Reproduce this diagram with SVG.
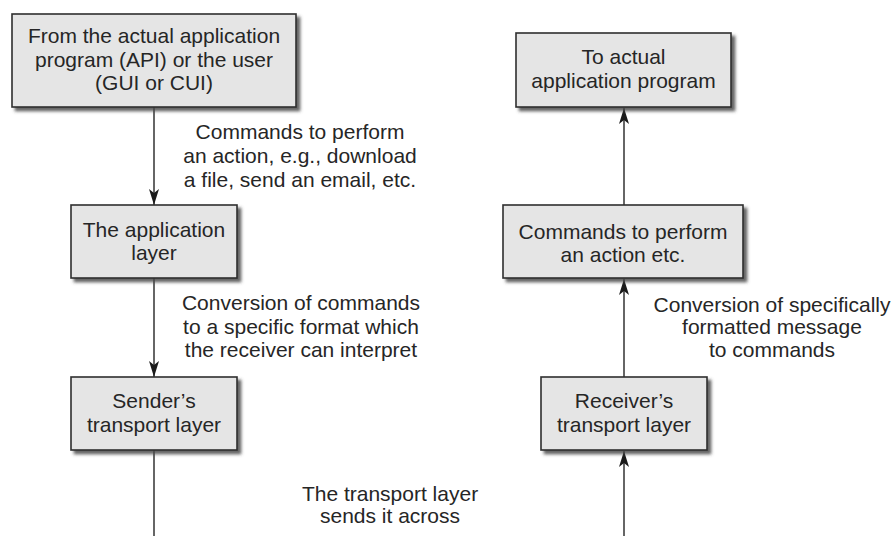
<svg xmlns="http://www.w3.org/2000/svg" width="895" height="536" viewBox="0 0 895 536">
  <defs>
    <filter id="shadow" x="-10%" y="-10%" width="125%" height="140%">
      <feDropShadow dx="3.5" dy="3.5" stdDeviation="1.6" flood-color="#4a4a4a" flood-opacity="0.85"/>
    </filter>
    <marker id="arrow" viewBox="0 0 16 10" markerWidth="16" markerHeight="10" refX="16" refY="5" orient="auto" markerUnits="userSpaceOnUse">
      <path d="M0,0 L16,5 L0,10 L4,5 Z" fill="#1a1a1a"/>
    </marker>
  </defs>
  <style>
    .box { fill: #e5e5e5; stroke: #2e2e2e; stroke-width: 1.6; filter: url(#shadow); }
    .txt { font-family: "Liberation Sans", Arial, sans-serif; font-size: 21px; fill: #262626; text-anchor: middle; }
    .wire { stroke: #333; stroke-width: 1.5; fill: none; }
    .head { marker-end: url(#arrow); }
  </style>
  <rect width="895" height="536" fill="#ffffff"/>

  <!-- connectors -->
  <g id="connectors">
    <line class="wire head" x1="154" y1="107" x2="154" y2="205"/>
    <line class="wire head" x1="154" y1="278" x2="154" y2="377"/>
    <line class="wire" x1="154" y1="450" x2="154" y2="536"/>
    <line class="wire head" x1="624" y1="536" x2="624" y2="451"/>
    <line class="wire head" x1="624" y1="377" x2="624" y2="279"/>
    <line class="wire head" x1="624" y1="205" x2="624" y2="108"/>
  </g>

  <!-- sender side -->
  <g id="source">
    <rect class="box" x="12" y="14" width="284" height="93"/>
    <text class="txt" x="154" y="43">From the actual application</text>
    <text class="txt" x="154" y="66.5">program (API) or the user</text>
    <text class="txt" x="154" y="90">(GUI or CUI)</text>
  </g>
  <g id="app-layer">
    <rect class="box" x="71" y="205" width="166" height="73"/>
    <text class="txt" x="154" y="237">The application</text>
    <text class="txt" x="154" y="260">layer</text>
  </g>
  <g id="sender-transport">
    <rect class="box" x="71" y="377" width="166" height="73"/>
    <text class="txt" x="154" y="408">Sender’s</text>
    <text class="txt" x="154" y="432">transport layer</text>
  </g>

  <!-- receiver side -->
  <g id="target">
    <rect class="box" x="516" y="33" width="215" height="74"/>
    <text class="txt" x="623.5" y="64">To actual</text>
    <text class="txt" x="623.5" y="88">application program</text>
  </g>
  <g id="commands">
    <rect class="box" x="503" y="205" width="240" height="73"/>
    <text class="txt" x="623" y="239">Commands to perform</text>
    <text class="txt" x="623" y="262">an action etc.</text>
  </g>
  <g id="receiver-transport">
    <rect class="box" x="541" y="377" width="166" height="73"/>
    <text class="txt" x="624" y="408">Receiver’s</text>
    <text class="txt" x="624" y="432">transport layer</text>
  </g>

  <!-- connector labels -->
  <g id="labels">
    <text class="txt" x="300" y="139">Commands to perform</text>
    <text class="txt" x="300" y="163">an action, e.g., download</text>
    <text class="txt" x="300" y="187">a file, send an email, etc.</text>

    <text class="txt" x="301" y="310">Conversion of commands</text>
    <text class="txt" x="301" y="334">to a specific format which</text>
    <text class="txt" x="301" y="357">the receiver can interpret</text>

    <text class="txt" x="772" y="312">Conversion of specifically</text>
    <text class="txt" x="772" y="334">formatted message</text>
    <text class="txt" x="772" y="357">to commands</text>

    <text class="txt" x="390" y="501">The transport layer</text>
    <text class="txt" x="390" y="523">sends it across</text>
  </g>
</svg>
